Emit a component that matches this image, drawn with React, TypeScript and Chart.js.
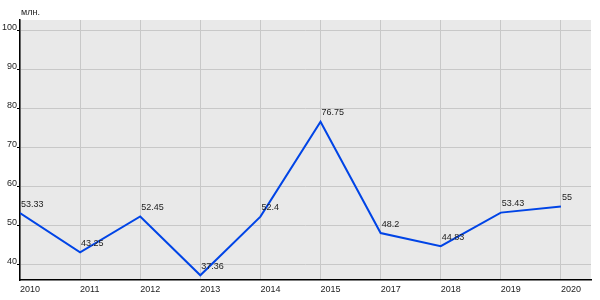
import React, { useEffect, useRef } from "react";
import { Chart, registerables } from "chart.js";

Chart.register(...registerables);

const categories = ["2010", "2011", "2012", "2013", "2014", "2015", "2017", "2018", "2019", "2020"];
const values = [53.33, 43.25, 52.45, 37.36, 52.4, 76.75, 48.2, 44.83, 53.43, 55];
const yTicks = [40, 50, 60, 70, 80, 90, 100];
const unitLabel = "млн.";

const FONT = "'Liberation Sans', Arial, sans-serif";

const bgPlugin = {
  id: "areaBg",
  beforeDraw(chart: any) {
    const { ctx, chartArea } = chart;
    ctx.save();
    ctx.fillStyle = "#e9e9e9";
    ctx.fillRect(chartArea.left, chartArea.top, chartArea.right - chartArea.left, chartArea.bottom - chartArea.top);
    ctx.restore();
  },
};

const labelPlugin = {
  id: "valueLabels",
  afterDatasetsDraw(chart: any) {
    const { ctx, chartArea } = chart;
    const meta = chart.getDatasetMeta(0);
    ctx.save();
    ctx.font = `9px ${FONT}`;
    ctx.fillStyle = "#222";
    ctx.textAlign = "left";
    ctx.textBaseline = "alphabetic";
    meta.data.forEach((pt: any, i: number) => {
      ctx.fillText(String(values[i]), pt.x + 1, pt.y - 6.5);
    });
    ctx.fillText(unitLabel, chartArea.left + 1, 15);
    ctx.restore();
  },
};

export default function App() {
  const ref = useRef<HTMLCanvasElement>(null);
  useEffect(() => {
    if (!ref.current) return;
    const chart = new Chart(ref.current, {
      type: "line",
      data: {
        datasets: [
          {
            data: values.map((v, i) => ({ x: i, y: v })),
            borderColor: "#0044e6",
            borderWidth: 2,
            pointRadius: 0,
            tension: 0,
            fill: false,
          },
        ],
      },
      options: {
        animation: false,
        responsive: false,
        maintainAspectRatio: false,
        layout: { padding: { top: 20, right: 9, left: 0, bottom: 0 } },
        plugins: { legend: { display: false }, tooltip: { enabled: false } },
        scales: {
          x: {
            type: "linear",
            min: 0,
            max: 9.5,
            afterBuildTicks: (scale: any) => {
              scale.ticks = categories.map((_, i) => ({ value: i }));
            },
            afterFit: (scale: any) => {
              scale.height = 20;
            },
            grid: { color: "#c8c8c8", lineWidth: 1, drawTicks: false, tickLength: 0 },
            border: { color: "#000", width: 1.5 },
            ticks: {
              autoSkip: false,
              maxRotation: 0,
              align: "start",
              padding: 4,
              color: "#222",
              font: { family: FONT, size: 9 },
              callback: (v: any) => categories[v as number] ?? "",
            },
          },
          y: {
            type: "linear",
            min: 36.15,
            max: 102.82,
            afterBuildTicks: (scale: any) => {
              scale.ticks = yTicks.map((v) => ({ value: v }));
            },
            afterFit: (scale: any) => {
              scale.width = 20;
            },
            grid: { color: "#c8c8c8", lineWidth: 1, tickColor: "#000", tickLength: 3 },
            border: { color: "#000", width: 1.5 },
            ticks: {
              padding: 0,
              labelOffset: -3,
              color: "#222",
              font: { family: FONT, size: 9 },
            },
          },
        },
      },
      plugins: [bgPlugin, labelPlugin],
    } as any);
    return () => chart.destroy();
  }, []);
  return (
    <div style={{ position: "fixed", left: 0, top: 0, width: 600, height: 300, background: "#fff" }}>
      <canvas ref={ref} width={600} height={300} style={{ width: 600, height: 300 }} />
    </div>
  );
}
